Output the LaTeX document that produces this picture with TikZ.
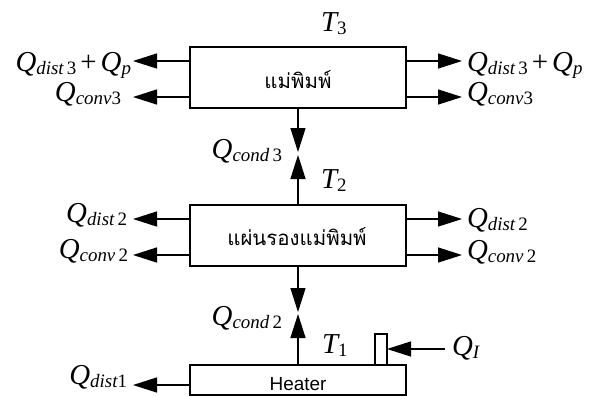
\documentclass[tikz,border=0pt]{standalone}
\usepackage{fontspec}
\setmainfont{Liberation Serif}
\newfontfamily\thaifont[Script=Thai]{Loma}
\newfontfamily\arialfont{Liberation Sans}
\usetikzlibrary{arrows.meta}
\newcommand\bigQ{\fontsize{29}{29}\selectfont\itshape}
\newcommand\subQ[2]{\raisebox{-0.32em}{\fontsize{19}{19}\selectfont\itshape #1\upshape #2}}
\newcommand\QQ[2]{{\bigQ Q}\subQ{#1}{#2}}
\newcommand\plusQ{{\bigQ\upshape\hspace{4bp}+\hspace{4bp}}{\bigQ Q}\subQ{p}{}}
\tikzset{
  box/.style={draw, line width=1.8pt},
  flow/.style={line width=1.4pt, -{Triangle[length=24bp,width=15bp]}},
  lbl/.style={inner sep=0pt, outer sep=0pt},
  thai/.style={inner sep=0pt, font=\thaifont\fontsize{20.5}{20.5}\selectfont},
}
\begin{document}
\begin{tikzpicture}[x=1bp,y=-1bp]
\useasboundingbox (0,0) rectangle (592,396);
% boxes
\draw[box] (190,47) rectangle (406,108);
\draw[box] (190,205) rectangle (406,266);
\draw[box] (190,365) rectangle (406,395);
\draw[box] (375,334) rectangle (387,365);
\coordinate (b3t) at (298,108);
\coordinate (b2t) at (298,205);
\coordinate (b2b) at (298,266);
\coordinate (b1t) at (298,365);
\node[thai, anchor=base] (mold) at (298,88) {แม่พิมพ์};
\node[thai, anchor=base] (plate) at (297,245) {แผ่นรองแม่พิมพ์};
\node[inner sep=0pt, anchor=base, font=\arialfont\fontsize{19}{19}\selectfont] (heater) at (298,390) {Heater};
% coordinates for arrows
\coordinate (l31) at (190,61); \coordinate (l31e) at (133,61);
\coordinate (l32) at (190,97); \coordinate (l32e) at (133,97);
\coordinate (r31) at (406,61); \coordinate (r31e) at (462,61);
\coordinate (r32) at (406,97); \coordinate (r32e) at (462,97);
\coordinate (l21) at (190,219); \coordinate (l21e) at (133,219);
\coordinate (l22) at (190,255); \coordinate (l22e) at (133,255);
\coordinate (r21) at (406,219); \coordinate (r21e) at (462,219);
\coordinate (r22) at (406,255); \coordinate (r22e) at (462,255);
\coordinate (l11) at (190,385); \coordinate (l11e) at (133,385);
\coordinate (c3d) at (298,152); \coordinate (c3u) at (298,155);
\coordinate (c2d) at (298,312); \coordinate (c2u) at (298,314);
\coordinate (qi) at (445,349); \coordinate (qie) at (387,349);
\draw[flow] (l31) -- (l31e);
\draw[flow] (l32) -- (l32e);
\draw[flow] (r31) -- (r31e);
\draw[flow] (r32) -- (r32e);
\draw[flow] (l21) -- (l21e);
\draw[flow] (l22) -- (l22e);
\draw[flow] (r21) -- (r21e);
\draw[flow] (r22) -- (r22e);
\draw[flow] (l11) -- (l11e);
\draw[flow] (b3t) -- (c3d);
\draw[flow] (b2t) -- (c3u);
\draw[flow] (b2b) -- (c2d);
\draw[flow] (b1t) -- (c2u);
\draw[flow] (qi) -- (qie);
% labels
\node[lbl, anchor=base east] (ql31) at (131,71) {\QQ{dist}{\,3}\plusQ};
\node[lbl, anchor=base east] (ql32) at (121,101) {\QQ{conv}{3}};
\node[lbl, anchor=base west] (qr31) at (467,71) {\QQ{dist}{\,3}\plusQ};
\node[lbl, anchor=base west] (qr32) at (467,101) {\QQ{conv}{3}};
\node[lbl, anchor=base east] (ql21) at (127,222) {\QQ{dist}{\,2}};
\node[lbl, anchor=base east] (ql22) at (128,258) {\QQ{conv}{\,2}};
\node[lbl, anchor=base west] (qr21) at (467,227) {\QQ{dist}{\,2}};
\node[lbl, anchor=base west] (qr22) at (467,259) {\QQ{conv}{\,2}};
\node[lbl, anchor=base east] (ql11) at (127,384) {\QQ{dist}{1}};
\node[lbl, anchor=base east] (qc3) at (282,158) {\QQ{cond}{\,3}};
\node[lbl, anchor=base east] (qc2) at (282,325) {\QQ{cond}{\,2}};
\node[lbl, anchor=base west] (t3) at (321,31) {{\bigQ T}\subQ{}{3}};
\node[lbl, anchor=base west] (t2) at (321,188) {{\bigQ T}\subQ{}{2}};
\node[lbl, anchor=base west] (t1) at (322,353) {{\bigQ T}\subQ{}{1}};
\node[lbl, anchor=base west] (qI) at (452,355) {\QQ{I}{}};
\end{tikzpicture}
\end{document}
